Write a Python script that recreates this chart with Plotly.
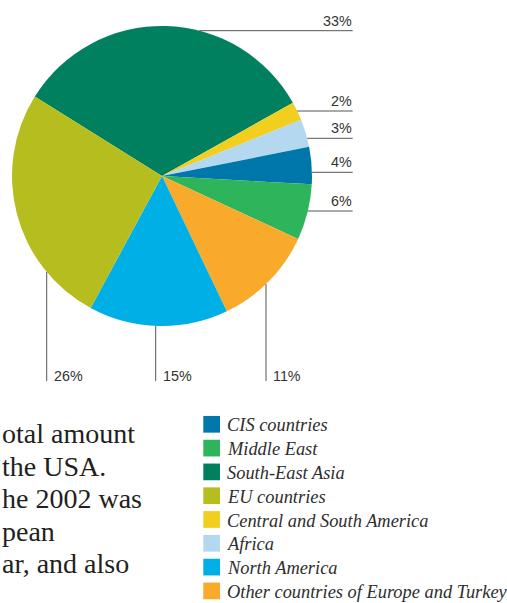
import math
import plotly.graph_objects as go

# Slices in drawing order (clockwise, starting from the upper-left edge of South-East Asia)
regions = [
    "South-East Asia",
    "Central and South America",
    "Africa",
    "CIS countries",
    "Middle East",
    "Other countries of Europe and Turkey",
    "North America",
    "EU countries",
]
shares = [33, 2, 3, 4, 6, 11, 15, 26]
colors = ["#00805f", "#f2ce1f", "#b4d8f0", "#0077aa", "#2eb45a", "#f9aa2a", "#00afe6", "#b6bd1e"]

# Legend ordering
legend_order = [
    "CIS countries",
    "Middle East",
    "South-East Asia",
    "EU countries",
    "Central and South America",
    "Africa",
    "North America",
    "Other countries of Europe and Turkey",
]

# Visible fragments of the running text beside the chart
body_lines = ["otal amount", "the USA.", "he 2002 was", "pean", "ar, and also"]

W, H = 507, 603
CX, CY, R = 162, 176, 150  # pie centre and radius in pixels


def px(x):
    return x / W


def py(y):
    return 1 - y / H


fig = go.Figure()
fig.add_trace(
    go.Pie(
        labels=regions,
        values=shares,
        sort=False,
        direction="clockwise",
        rotation=-58,
        marker=dict(colors=colors, line=dict(width=0)),
        textinfo="none",
        hoverinfo="label+percent",
        showlegend=False,
        domain=dict(x=[px(CX - R), px(CX + R)], y=[py(CY + R), py(CY - R)]),
    )
)

share_of = dict(zip(regions, shares))
color_of = dict(zip(regions, colors))

shapes = []
annotations = []
label_font = dict(family="Liberation Sans, Arial, sans-serif", size=14.3, color="#333333")
line_style = dict(color="#555555", width=1)

# Labels on the right: horizontal leader lines ending at a common x
right_labels = {
    "South-East Asia": 30.7,
    "Central and South America": 111,
    "Africa": 138.3,
    "CIS countries": 172.3,
    "Middle East": 211,
}
RIGHT_END = 352.7
for name, ly in right_labels.items():
    x0 = CX + math.sqrt(max(R * R - (ly - CY) ** 2, 0))
    shapes.append(dict(type="line", xref="paper", yref="paper",
                       x0=px(x0), x1=px(RIGHT_END), y0=py(ly), y1=py(ly), line=line_style))
    annotations.append(dict(text=f"{share_of[name]}%", x=px(RIGHT_END + 1), y=py(ly - 10),
                            xref="paper", yref="paper", xanchor="right", yanchor="middle",
                            showarrow=False, font=label_font))

# Labels below: vertical leader lines ending at a common y
bottom_labels = {
    "EU countries": 46.7,
    "North America": 155.7,
    "Other countries of Europe and Turkey": 266,
}
BOTTOM_END = 381
for name, lx in bottom_labels.items():
    y0 = CY + math.sqrt(max(R * R - (lx - CX) ** 2, 0))
    shapes.append(dict(type="line", xref="paper", yref="paper",
                       x0=px(lx), x1=px(lx), y0=py(y0), y1=py(BOTTOM_END), line=line_style))
    annotations.append(dict(text=f"{share_of[name]}%", x=px(lx + 5), y=py(BOTTOM_END - 5.5),
                            xref="paper", yref="paper", xanchor="left", yanchor="middle",
                            showarrow=False, font=label_font))

# Legend: coloured squares with italic captions
LEG_X, LEG_Y0, LEG_DY, SQ = 203.3, 424.3, 23.8, 16.7
for i, name in enumerate(legend_order):
    yc = LEG_Y0 + i * LEG_DY
    shapes.append(dict(type="rect", xref="paper", yref="paper",
                       x0=px(LEG_X), x1=px(LEG_X + SQ), y0=py(yc - SQ / 2), y1=py(yc + SQ / 2),
                       fillcolor=color_of[name], line=dict(width=0)))
    annotations.append(dict(text=f"<i>{name}</i>", x=px(LEG_X + 22), y=py(yc + 1),
                            xref="paper", yref="paper", xanchor="left", yanchor="middle",
                            showarrow=False,
                            font=dict(family="Liberation Serif, Times New Roman, serif",
                                      size=18.4, color="#2e2e2e")))

# Running text
for i, line in enumerate(body_lines):
    baseline = 441.7 + i * 32.5
    annotations.append(dict(text=line, x=0, y=py(baseline - 8),
                            xref="paper", yref="paper", xanchor="left", yanchor="middle",
                            showarrow=False,
                            font=dict(family="Liberation Serif, Times New Roman, serif",
                                      size=28, color="#231f20")))

fig.update_layout(
    width=W,
    height=H,
    margin=dict(l=0, r=0, t=0, b=0),
    paper_bgcolor="white",
    plot_bgcolor="white",
    shapes=shapes,
    annotations=annotations,
    showlegend=False,
)

fig.write_html("out.html")
